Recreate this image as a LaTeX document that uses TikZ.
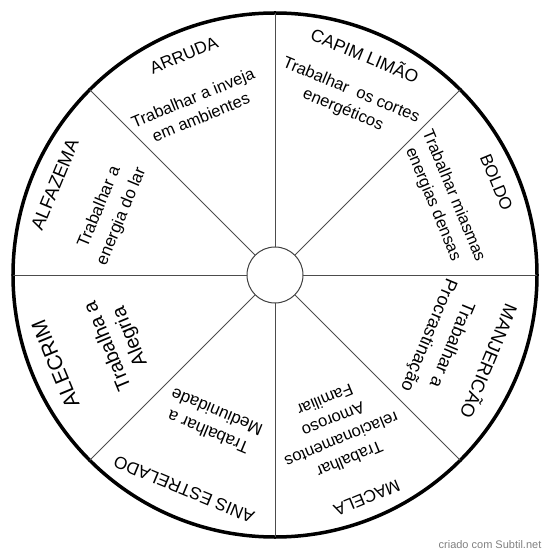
\documentclass[tikz,border=0pt]{standalone}
\usepackage{fontspec}
\setmainfont{Liberation Sans}
\begin{document}
\begin{tikzpicture}[x=1pt,y=1pt,
  rimstyle/.style={circle, draw=black, line width=3.5pt, minimum size=524pt, inner sep=0pt, outer sep=0pt},
  hubstyle/.style={circle, draw=black!75, line width=1pt, minimum size=56pt, inner sep=0pt, outer sep=0pt, fill=white},
  spoke/.style={draw=black!70, line width=0.9pt},
  ttl/.style={inner sep=0pt, font=\fontsize{#1}{#1}\selectfont},
  desc/.style n args={2}{inner sep=0pt, align=center, font=\fontsize{#1}{#2}\selectfont},
  wmark/.style={inner sep=0pt, text=black!50, font=\fontsize{11}{13}\selectfont}]
\useasboundingbox (-275,-284) rectangle (275,275);
\node[rimstyle] (rim) at (0,0) {};
\node[hubstyle] (hub) at (0,0) {};
\foreach \a in {0,45,...,315} {\draw[spoke] (hub.\a) -- (rim.\a);}
% ARRUDA
\node[ttl=17, rotate=22.5] (t1) at (112.5:238) {ARRUDA};
\node[desc={16.5}{21}, rotate=22.5] (d1) at (115:185) {Trabalhar a inveja\\em ambientes};
% CAPIM LIMAO
\node[ttl=17.5, rotate=-22.5] (t2) at (67.7:238) {CAPIM LIMÃO};
\node[desc={16.5}{21}, rotate=-22.5] (d2) at (67.6:189) {Trabalhar\ \ os cortes\\energéticos};
% BOLDO
\node[ttl=17, rotate=-67.5] (t3) at (22.7:240) {BOLDO};
\node[desc={16.5}{22}, rotate=-67.5] (d3) at (24:184) {Trabalhar miasmas\\energias densas};
% MANJERICAO
\node[ttl=18.5, rotate=-112.5] (t4) at (-22:232) {MANJERICÃO};
\node[desc={18}{25}, rotate=-112.5] (d4) at (-21.5:177) {Trabalhar a\\Procrastinação};
% MACELA
\node[ttl=17, rotate=-157.5] (t5) at (-67.6:241) {MACELA};
\node[desc={16.5}{21.5}, rotate=-157.5] (d5) at (-68:167) {Trabalhar\\relacionamentos\\Amoroso\\Familiar};
% ANIS ESTRELADO
\node[ttl=17.3, rotate=157.5] (t6) at (247:233) {ANIS ESTRELADO};
\node[desc={17}{22}, rotate=157.5] (d6) at (247:160) {Trabalhar a\\Mediunidade};
% ALECRIM
\node[ttl=21, rotate=112.5] (t7) at (202:237) {ALECRIM};
\node[desc={20}{24}, rotate=112.5] (d7) at (203:169) {Trabalha a\\Alegria};
% ALFAZEMA
\node[ttl=18.5, rotate=67.5] (t8) at (157.7:238) {ALFAZEMA};
\node[desc={17}{24}, rotate=67.5] (d8) at (159:176) {Trabalhar a\\energia do lar};
% watermark
\node[wmark] (wm) at (215,-270) {criado com Subtil.net};
\end{tikzpicture}
\end{document}
